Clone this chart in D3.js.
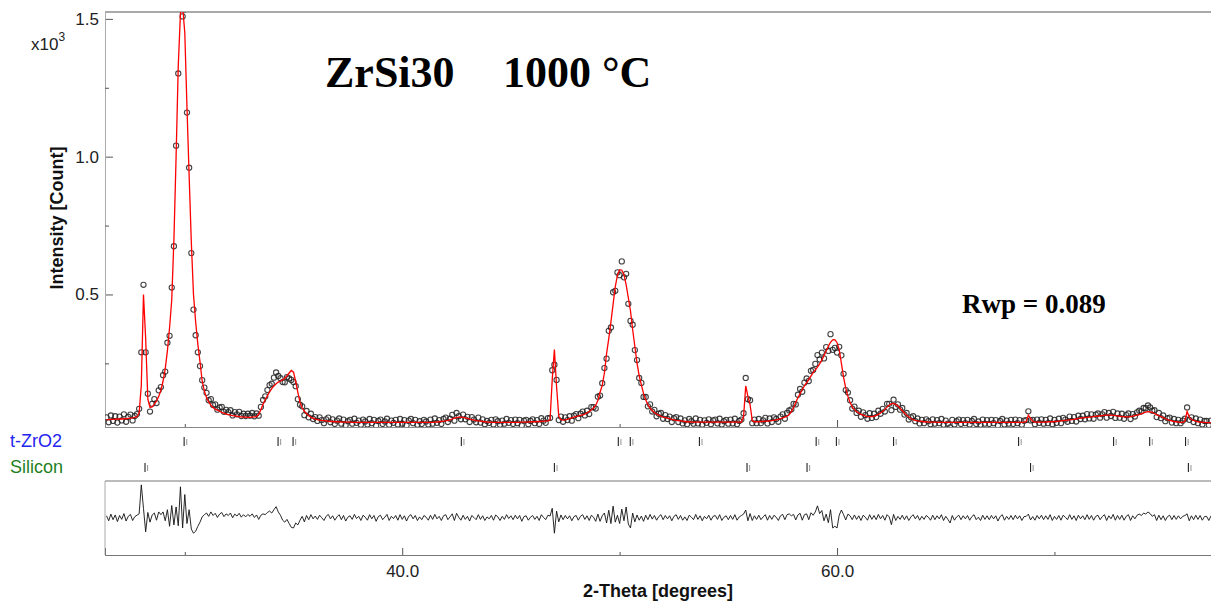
<!DOCTYPE html>
<html>
<head>
<meta charset="utf-8">
<script src="https://d3js.org/d3.v7.min.js"></script>
<style>
  body { margin: 0; background: #fff; }
  text { font-family: "Liberation Sans", Arial, sans-serif; }
</style>
</head>
<body>
<svg id="plot" width="1211" height="602"></svg>
<script>
// scan grid: 2-theta 26.4 .. 77.2, step 0.1
const thetaStart = 26.4;
const thetaStep = 0.1;

// calculated profile, counts (rows: 26.4-26.9, then one row per degree)
const calcCounts = [
  46, 46, 47, 47, 47, 48,
  48, 48, 49, 49, 50, 51, 52, 54, 56, 70,
  170, 500, 340, 120, 90, 92, 102, 114, 130, 152,
  185, 230, 295, 380, 480, 700, 1000, 1330, 1520, 1545,
  1450, 1180, 930, 690, 500, 400, 320, 255, 185, 150,
  125, 110, 98, 90, 84, 80, 76, 72, 69, 66,
  64, 62, 60, 59, 58, 57, 56, 55, 55, 54,
  54, 55, 56, 57, 65, 82, 102, 118, 133, 146,
  158, 168, 176, 182, 186, 190, 196, 205, 215, 224,
  218, 185, 145, 108, 88, 76, 68, 60, 55, 51,
  48, 46, 44, 43, 42, 41, 40, 39, 39, 38,
  38, 38, 37, 37, 37, 37, 37, 36, 36, 36,
  36, 36, 36, 36, 36, 36, 36, 36, 36, 36,
  36, 36, 36, 36, 36, 36, 36, 36, 36, 36,
  36, 36, 36, 36, 36, 36, 36, 36, 36, 36,
  36, 36, 36, 36, 36, 37, 37, 38, 39, 40,
  41, 43, 45, 48, 51, 53, 55, 55, 54, 52,
  50, 48, 46, 44, 42, 41, 40, 39, 38, 37,
  37, 36, 36, 36, 36, 36, 36, 36, 36, 36,
  36, 36, 36, 36, 36, 37, 37, 37, 37, 38,
  38, 38, 38, 39, 39, 40, 40, 41, 45, 190,
  300, 165, 58, 46, 44, 45, 47, 50, 52, 55,
  57, 59, 61, 63, 66, 70, 75, 81, 88, 98,
  115, 145, 170, 215, 285, 340, 400, 465, 528, 570,
  590, 588, 572, 535, 488, 440, 372, 312, 251, 205,
  172, 140, 118, 100, 88, 79, 72, 66, 62, 58,
  55, 53, 51, 49, 47, 45, 43, 42, 41, 40,
  39, 38, 38, 37, 37, 37, 37, 37, 37, 37,
  37, 37, 37, 37, 37, 37, 37, 37, 37, 37,
  37, 37, 37, 37, 37, 37, 37, 55, 168, 130,
  100, 42, 38, 38, 38, 39, 39, 40, 40, 41,
  42, 44, 45, 47, 49, 52, 55, 58, 64, 75,
  90, 108, 125, 140, 155, 168, 180, 192, 204, 216,
  226, 236, 248, 262, 278, 295, 312, 326, 335, 336,
  325, 300, 250, 200, 160, 130, 108, 92, 82, 75,
  70, 65, 62, 59, 57, 57, 57, 58, 61, 65,
  70, 76, 83, 91, 99, 104, 105, 101, 95, 87,
  78, 70, 62, 55, 50, 46, 43, 41, 40, 39,
  38, 38, 37, 37, 37, 37, 36, 36, 36, 36,
  36, 36, 36, 36, 36, 36, 36, 36, 36, 36,
  36, 36, 36, 36, 36, 36, 36, 36, 36, 36,
  36, 36, 36, 36, 36, 36, 36, 36, 36, 36,
  36, 36, 36, 36, 36, 36, 37, 38, 62, 50,
  40, 37, 37, 37, 37, 37, 37, 38, 38, 38,
  39, 39, 40, 41, 42, 43, 44, 45, 46, 47,
  48, 50, 51, 52, 53, 54, 55, 56, 57, 58,
  58, 59, 60, 61, 62, 62, 62, 61, 60, 59,
  58, 57, 57, 56, 56, 57, 58, 60, 62, 64,
  67, 70, 73, 75, 74, 72, 68, 64, 60, 57,
  53, 49, 46, 43, 41, 39, 38, 37, 36, 36,
  40, 75, 55, 46, 43, 40, 38, 37, 36, 36,
  35, 35, 34
];

// observed - calculated, counts (same grid)
const diffCounts = [
  8, -10, 14, -6, 11, -13,
  9, -5, 16, -11, 6, 13, -9, 5, 10, 15,
  120, 35, -50, 20, -15, 11, 18, -8, 22, 12,
  22, -10, 30, -30, 45, -25, 40, -28, 113, -36,
  85, -20, 30, -40, -55, -48, -30, -15, 4, 12,
  18, 6, 22, 9, 17, 2, 14, 20, 5, 15,
  9, 18, 1, 14, 7, 17, 3, 12, 4, 13,
  6, 15, 2, 11, -5, 10, 15, 12, 20, 25,
  18, 30, 41, 22, 10, -8, -15, -5, -20, -34,
  -36, -18, -25, -8, 6, -14, 9, -6, 12, -3,
  7, -5, 10, 1, -9, 6, 13, -3, 8, -8,
  4, 12, -6, 9, -11, 3, 8, -5, 13, -2,
  6, -9, 10, 3, -8, 12, -3, 9, -12, 5,
  10, -6, 3, 13, -9, 6, -2, 9, -8, 12,
  -5, 8, -11, 6, 12, -3, 9, -9, 4, -6,
  9, 3, -8, 10, -5, 13, -3, 6, -9, 8,
  12, -6, 4, 15, -9, 17, 3, -8, 10, -5,
  6, -11, 9, 2, -6, 12, -5, 8, -9, 4,
  -3, 9, -8, 11, 4, -9, 6, -5, 12, -2,
  8, -6, 10, -3, 9, -12, 5, 8, -8, 3,
  9, -5, 6, -9, 12, 2, -6, 10, 7, 35,
  -55, 25, -14, 11, -6, 9, -3, 8, -10, 5,
  9, -8, 6, 12, -5, 8, -9, 10, 3, -12,
  14, -12, 8, 18, -18, 28, -20, 43, -15, 10,
  -20, 32, -10, 40, -22, -36, 18, -14, 11, -8,
  7, -12, 10, -6, 13, -4, 9, -8, 5, 12,
  -6, 9, -3, 8, -10, 6, 12, -5, 9, -8,
  4, -9, 10, 3, -6, 13, -5, 8, -10, 6,
  -3, 10, -8, 6, 9, -5, 12, -9, 3, 8,
  -6, 9, -5, 12, -8, 4, 9, 14, 29, -10,
  16, -9, 8, -5, 10, -6, 4, 12, -8, 9,
  -5, 10, 3, -9, 8, 13, -6, 12, 15, 8,
  13, -7, 11, 17, -8, 12, 15, -6, 19, 10,
  22, 44, 16, 27, -10, 14, -17, 30, -36, -30,
  -36, 10, 29, 12, -7, 14, 8, -6, 11, -5,
  8, -9, 10, 3, -8, 12, -5, 9, -6, 13,
  -3, 9, -8, 12, 4, -24, 13, -9, 6, -5,
  10, -6, 8, -9, 4, 12, -3, 9, -8, 6,
  -5, 9, 3, -8, 10, -6, 8, -3, 12, -9,
  6, -5, -18, 9, -8, 4, 10, -6, 8, -3,
  9, -8, 5, 12, -6, 3, -9, 10, -5, 8,
  -6, 9, -3, 8, -11, 5, 12, -8, 6, -5,
  9, -6, 10, -3, 8, -9, 5, 6, 14, -7,
  5, -8, 9, -3, 10, -6, 8, -5, 12, -9,
  6, -5, 9, -8, 10, 3, -6, 12, -5, 8,
  -9, 10, -3, 8, -6, 12, -5, 9, -8, 6,
  10, -6, 5, 12, -9, 8, -3, 13, -8, 9,
  -5, 10, -8, 6, 12, -9, 8, -3, 10, 14,
  9, 18, 14, 22, 16, 6, 12, -9, 10, -6,
  8, -9, 5, 10, -6, 9, -5, 8, -3, 6,
  9, 15, -10, 8, -6, 10, -5, 9, -8, 5,
  6, -9, 8
];

// reflection positions (2-theta)
const zrTicks = [29.97, 34.29, 34.98, 42.72, 49.94, 50.49, 53.67, 59.04, 59.97, 62.60, 68.35, 72.72, 74.38, 76.03];
const siTicks = [28.17, 47.00, 55.86, 58.62, 68.90, 76.16];

const yMajor = [500, 1000, 1500];
const yMinor = [250, 750, 1250];
const xMajor = [40, 60];
const xMinor = [30, 50, 70];

const data = calcCounts.map(function (c, i) {
  return {
    theta: +(thetaStart + i * thetaStep).toFixed(2),
    calc: c,
    diff: diffCounts[i],
    obs: c + diffCounts[i]
  };
});

const left = 105, right = 1211;
const mainTop = 12, mainBottom = 427;
const diffTop = 481, diffBottom = 555;

const x = d3.scaleLinear().domain([26.33, 77.2]).range([left, right]);
const y = d3.scaleLinear().domain([19, 1525]).range([mainBottom, mainTop]);
const yd = d3.scaleLinear().domain([-134, 134]).range([diffBottom, diffTop]);

const svg = d3.select("#plot");

svg.append("clipPath").attr("id", "clipMain")
  .append("rect").attr("x", left).attr("y", mainTop)
  .attr("width", right - left).attr("height", mainBottom - mainTop);
svg.append("clipPath").attr("id", "clipDiff")
  .append("rect").attr("x", left).attr("y", diffTop)
  .attr("width", right - left).attr("height", diffBottom - diffTop);

function styleAxis(g, col) {
  g.select(".domain").attr("stroke", col);
  g.selectAll(".tick line").attr("stroke", "#555");
  g.selectAll(".tick text").attr("fill", "#222").style("font-size", "17px")
    .style("font-family", '"Liberation Sans", Arial, sans-serif');
}

// main panel frame
svg.append("line").attr("x1", left).attr("x2", right)
  .attr("y1", mainTop).attr("y2", mainTop).attr("stroke", "#555");

// y axis
const gy = svg.append("g").attr("transform", "translate(" + left + ",0)")
  .call(d3.axisLeft(y).tickValues(yMajor).tickSize(-8).tickPadding(6)
    .tickFormat(function (d) { return d3.format(".1f")(d / 1000); }));
styleAxis(gy, "#aaa");
const gy2 = svg.append("g").attr("transform", "translate(" + left + ",0)")
  .call(d3.axisLeft(y).tickValues(yMinor).tickSize(-4).tickFormat(""));
styleAxis(gy2, "#aaa");

// bottom of main panel
const gxm = svg.append("g").attr("transform", "translate(0," + mainBottom + ")")
  .call(d3.axisBottom(x).tickValues(xMajor).tickSize(-7).tickFormat(""));
styleAxis(gxm, "#888");
const gxm2 = svg.append("g").attr("transform", "translate(0," + mainBottom + ")")
  .call(d3.axisBottom(x).tickValues(xMinor).tickSize(-3).tickFormat(""));
styleAxis(gxm2, "#888");

// observed points
svg.append("g").attr("clip-path", "url(#clipMain)")
  .selectAll("circle").data(data).enter().append("circle")
  .attr("cx", function (d) { return x(d.theta); })
  .attr("cy", function (d) { return y(d.obs); })
  .attr("r", 2.6)
  .attr("fill", "none")
  .attr("stroke", "#222")
  .attr("stroke-opacity", 0.85)
  .attr("stroke-width", 1.1);

// calculated line
svg.append("path").datum(data)
  .attr("clip-path", "url(#clipMain)")
  .attr("fill", "none").attr("stroke", "#ff0000").attr("stroke-width", 1.3)
  .attr("d", d3.line()
    .x(function (d) { return x(d.theta); })
    .y(function (d) { return y(d.calc); }));

// reflection tick rows
function tickRow(vals, y0, col) {
  const g = svg.append("g");
  g.selectAll("line.a").data(vals).enter().append("line")
    .attr("x1", function (d) { return x(d); }).attr("x2", function (d) { return x(d); })
    .attr("y1", y0).attr("y2", y0 + 9).attr("stroke", col).attr("stroke-width", 1.1);
  g.selectAll("line.b").data(vals).enter().append("line")
    .attr("x1", function (d) { return x(d) + 2.6; }).attr("x2", function (d) { return x(d) + 2.6; })
    .attr("y1", y0 + 2).attr("y2", y0 + 8).attr("stroke", "#888").attr("stroke-width", 0.9);
}
tickRow(zrTicks, 437, "#222");
tickRow(siTicks, 463, "#222");

svg.append("text").attr("x", 10).attr("y", 447).text("t-ZrO2")
  .attr("fill", "#2424f0").style("font-size", "18px");
svg.append("text").attr("x", 10).attr("y", 473).text("Silicon")
  .attr("fill", "#1f7f1f").style("font-size", "18px");

// difference panel
svg.append("line").attr("x1", left).attr("x2", right)
  .attr("y1", diffTop).attr("y2", diffTop).attr("stroke", "#777");
svg.append("line").attr("x1", left).attr("x2", left)
  .attr("y1", diffTop).attr("y2", diffBottom).attr("stroke", "#aaa");

svg.append("path").datum(data)
  .attr("clip-path", "url(#clipDiff)")
  .attr("fill", "none").attr("stroke", "#111").attr("stroke-width", 0.9)
  .attr("d", d3.line()
    .x(function (d) { return x(d.theta); })
    .y(function (d) { return yd(d.diff); }));

const gxd = svg.append("g").attr("transform", "translate(0," + diffBottom + ")")
  .call(d3.axisBottom(x).tickValues(xMajor).tickSize(-7).tickPadding(10)
    .tickFormat(d3.format(".1f")));
styleAxis(gxd, "#777");
const gxd2 = svg.append("g").attr("transform", "translate(0," + diffBottom + ")")
  .call(d3.axisBottom(x).tickValues(xMinor).tickSize(-3).tickFormat(""));
styleAxis(gxd2, "#777");

// axis titles
svg.append("text").attr("x", 658).attr("y", 597).attr("text-anchor", "middle")
  .style("font-size", "18px").style("font-weight", "bold").attr("fill", "#111")
  .text("2-Theta [degrees]");
svg.append("text").attr("transform", "translate(63,218) rotate(-90)")
  .attr("text-anchor", "middle")
  .style("font-size", "18px").style("font-weight", "bold").attr("fill", "#111")
  .text("Intensity [Count]");

const mult = svg.append("text").attr("x", 31).attr("y", 50)
  .style("font-size", "17px").attr("fill", "#222");
mult.append("tspan").text("x10");
mult.append("tspan").attr("dy", -9).style("font-size", "12px").text("3");

// annotations
const serif = '"Liberation Serif", "Times New Roman", serif';
svg.append("text").attr("x", 325).attr("y", 87).text("ZrSi30")
  .style("font-family", serif).style("font-weight", "bold").style("font-size", "44px");
svg.append("text").attr("x", 503).attr("y", 87).text("1000 °C")
  .style("font-family", serif).style("font-weight", "bold").style("font-size", "44px");
svg.append("text").attr("x", 962).attr("y", 313).text("Rwp = 0.089")
  .style("font-family", serif).style("font-weight", "bold").style("font-size", "27px");
</script>
</body>
</html>
